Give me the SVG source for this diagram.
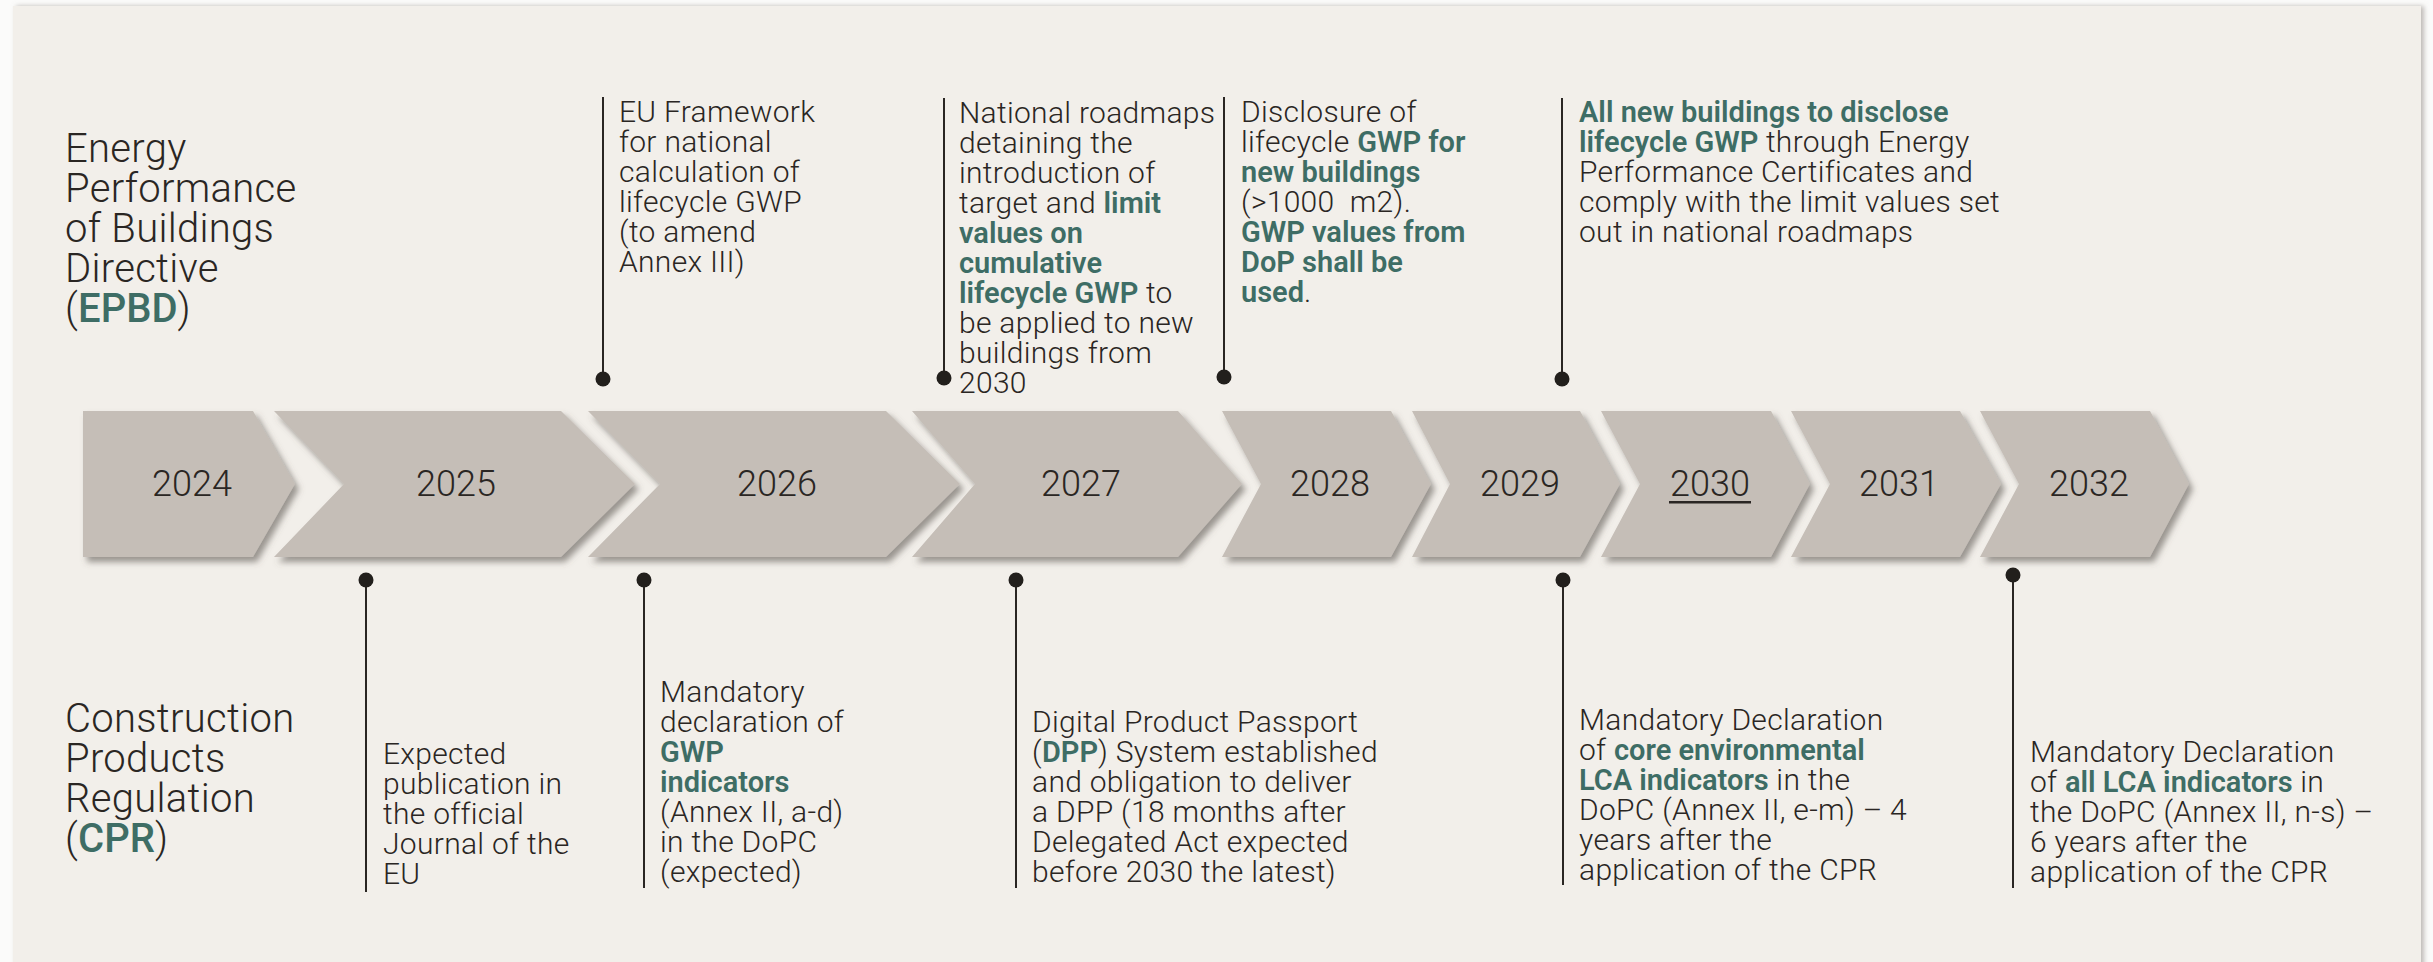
<svg xmlns="http://www.w3.org/2000/svg" width="2433" height="962" viewBox="0 0 2433 962">
<style>
.t{font-family:Roboto,"Liberation Sans",sans-serif;font-weight:300;font-size:30px;letter-spacing:0.3px;fill:#2a2623}
.b{font-weight:600;fill:#3e6d65;font-size:29px;letter-spacing:0}
.yr{font-size:36px;text-anchor:middle;letter-spacing:0}
.ttl{font-size:40px}
.ttl .b{font-size:40px;font-weight:500}
.chev{fill:#c5beb7;filter:url(#sh)}
.ln{stroke:#2a2623;stroke-width:2;fill:none}
.dot{fill:#221f1c}
</style>
<defs>
<filter id="sh" x="-10%" y="-10%" width="130%" height="130%">
<feDropShadow dx="4" dy="5" stdDeviation="3" flood-color="#5e5853" flood-opacity="0.6"/>
</filter>
<filter id="psh" x="-2%" y="-2%" width="104%" height="104%">
<feDropShadow dx="3" dy="0" stdDeviation="2.5" flood-color="#8a847e" flood-opacity="0.55"/>
</filter>
</defs>
<rect width="2433" height="962" fill="#fbfbfa"/>
<rect x="13" y="6" width="2408" height="970" fill="#f2efea" filter="url(#psh)"/>

<g id="title-epbd">
<text class="t ttl" x="65" y="162">Energy</text>
<text class="t ttl" x="65" y="202">Performance</text>
<text class="t ttl" x="65" y="242">of Buildings</text>
<text class="t ttl" x="65" y="282">Directive</text>
<text class="t ttl" x="65" y="322">(<tspan class="b">EPBD</tspan>)</text>
</g>
<g id="title-cpr">
<text class="t ttl" x="65" y="732">Construction</text>
<text class="t ttl" x="65" y="772">Products</text>
<text class="t ttl" x="65" y="812">Regulation</text>
<text class="t ttl" x="65" y="852">(<tspan class="b">CPR</tspan>)</text>
</g>

<g id="y2024"><polygon class="chev" points="83,411 253,411 295,484 253,557 83,557"/><text class="t yr" x="192" y="496">2024</text></g>
<g id="y2025"><polygon class="chev" points="274,411 561,411 635,484 561,557 274,557 344,484"/><text class="t yr" x="456" y="496">2025</text></g>
<g id="y2026"><polygon class="chev" points="588,411 886,411 960,484 886,557 588,557 660,484"/><text class="t yr" x="777" y="496">2026</text></g>
<g id="y2027"><polygon class="chev" points="912,411 1178,411 1242,484 1178,557 912,557 975,484"/><text class="t yr" x="1081" y="496">2027</text></g>
<g id="y2028"><polygon class="chev" points="1222,411 1391,411 1431,484 1391,557 1222,557 1261,484"/><text class="t yr" x="1330" y="496">2028</text></g>
<g id="y2029"><polygon class="chev" points="1412,411 1580,411 1620,484 1580,557 1412,557 1450,484"/><text class="t yr" x="1520" y="496">2029</text></g>
<g id="y2030"><polygon class="chev" points="1601,411 1771,411 1810,484 1771,557 1601,557 1640,484"/><text class="t yr" x="1710" y="496">2030</text><rect x="1669" y="501" width="82" height="2.5" fill="#2a2623"/></g>
<g id="y2031"><polygon class="chev" points="1791,411 1960,411 2001,484 1960,557 1791,557 1830,484"/><text class="t yr" x="1899" y="496">2031</text></g>
<g id="y2032"><polygon class="chev" points="1980,411 2150,411 2189,484 2150,557 1980,557 2019,484"/><text class="t yr" x="2089" y="496">2032</text></g>

<g id="connectors">
<line class="ln" x1="603" y1="97" x2="603" y2="379"/><circle class="dot" cx="603" cy="379" r="7.5"/>
<line class="ln" x1="944" y1="98" x2="944" y2="378"/><circle class="dot" cx="944" cy="378" r="7.5"/>
<line class="ln" x1="1224" y1="97" x2="1224" y2="377"/><circle class="dot" cx="1224" cy="377" r="7.5"/>
<line class="ln" x1="1562" y1="98" x2="1562" y2="379"/><circle class="dot" cx="1562" cy="379" r="7.5"/>
<line class="ln" x1="366" y1="580" x2="366" y2="892"/><circle class="dot" cx="366" cy="580" r="7.5"/>
<line class="ln" x1="644" y1="580" x2="644" y2="888"/><circle class="dot" cx="644" cy="580" r="7.5"/>
<line class="ln" x1="1016" y1="580" x2="1016" y2="888"/><circle class="dot" cx="1016" cy="580" r="7.5"/>
<line class="ln" x1="1563" y1="580" x2="1563" y2="885"/><circle class="dot" cx="1563" cy="580" r="7.5"/>
<line class="ln" x1="2013" y1="575" x2="2013" y2="888"/><circle class="dot" cx="2013" cy="575" r="7.5"/>
</g>

<g id="ev-2026-epbd">
<text class="t" x="619" y="122">EU Framework</text>
<text class="t" x="619" y="152">for national</text>
<text class="t" x="619" y="182">calculation of</text>
<text class="t" x="619" y="212">lifecycle GWP</text>
<text class="t" x="619" y="242">(to amend</text>
<text class="t" x="619" y="272">Annex III)</text>
</g>
<g id="ev-2027-epbd">
<text class="t" x="959" y="123">National roadmaps</text>
<text class="t" x="959" y="153">detaining the</text>
<text class="t" x="959" y="183">introduction of</text>
<text class="t" x="959" y="213">target and <tspan class="b">limit</tspan></text>
<text class="t" x="959" y="243"><tspan class="b">values on</tspan></text>
<text class="t" x="959" y="273"><tspan class="b">cumulative</tspan></text>
<text class="t" x="959" y="303"><tspan class="b">lifecycle GWP</tspan> to</text>
<text class="t" x="959" y="333">be applied to new</text>
<text class="t" x="959" y="363">buildings from</text>
<text class="t" x="959" y="393">2030</text>
</g>
<g id="ev-2028-epbd">
<text class="t" x="1241" y="122">Disclosure of</text>
<text class="t" x="1241" y="152">lifecycle <tspan class="b">GWP for</tspan></text>
<text class="t" x="1241" y="182"><tspan class="b">new buildings</tspan></text>
<text class="t" x="1241" y="212">(&gt;1000&#160; m2).</text>
<text class="t" x="1241" y="242"><tspan class="b">GWP values from</tspan></text>
<text class="t" x="1241" y="272"><tspan class="b">DoP shall be</tspan></text>
<text class="t" x="1241" y="302"><tspan class="b">used</tspan>.</text>
</g>
<g id="ev-2030-epbd">
<text class="t" x="1579" y="122"><tspan class="b">All new buildings to disclose</tspan></text>
<text class="t" x="1579" y="152"><tspan class="b">lifecycle GWP</tspan> through Energy</text>
<text class="t" x="1579" y="182">Performance Certificates and</text>
<text class="t" x="1579" y="212">comply with the limit values set</text>
<text class="t" x="1579" y="242">out in national roadmaps</text>
</g>

<g id="ev-2025-cpr">
<text class="t" x="383" y="764">Expected</text>
<text class="t" x="383" y="794">publication in</text>
<text class="t" x="383" y="824">the official</text>
<text class="t" x="383" y="854">Journal of the</text>
<text class="t" x="383" y="884">EU</text>
</g>
<g id="ev-2026-cpr">
<text class="t" x="660" y="702">Mandatory</text>
<text class="t" x="660" y="732">declaration of</text>
<text class="t" x="660" y="762"><tspan class="b">GWP</tspan></text>
<text class="t" x="660" y="792"><tspan class="b">indicators</tspan></text>
<text class="t" x="660" y="822">(Annex II, a-d)</text>
<text class="t" x="660" y="852">in the DoPC</text>
<text class="t" x="660" y="882">(expected)</text>
</g>
<g id="ev-2027-cpr">
<text class="t" x="1032" y="732">Digital Product Passport</text>
<text class="t" x="1032" y="762">(<tspan class="b">DPP</tspan>) System established</text>
<text class="t" x="1032" y="792">and obligation to deliver</text>
<text class="t" x="1032" y="822">a DPP (18 months after</text>
<text class="t" x="1032" y="852">Delegated Act expected</text>
<text class="t" x="1032" y="882">before 2030 the latest)</text>
</g>
<g id="ev-2029-cpr">
<text class="t" x="1579" y="730">Mandatory Declaration</text>
<text class="t" x="1579" y="760">of <tspan class="b">core environmental</tspan></text>
<text class="t" x="1579" y="790"><tspan class="b">LCA indicators</tspan> in the</text>
<text class="t" x="1579" y="820">DoPC (Annex II, e-m) – 4</text>
<text class="t" x="1579" y="850">years after the</text>
<text class="t" x="1579" y="880">application of the CPR</text>
</g>
<g id="ev-2032-cpr">
<text class="t" x="2030" y="762">Mandatory Declaration</text>
<text class="t" x="2030" y="792">of <tspan class="b">all LCA indicators</tspan> in</text>
<text class="t" x="2030" y="822">the DoPC (Annex II, n-s) –</text>
<text class="t" x="2030" y="852">6 years after the</text>
<text class="t" x="2030" y="882">application of the CPR</text>
</g>
</svg>
